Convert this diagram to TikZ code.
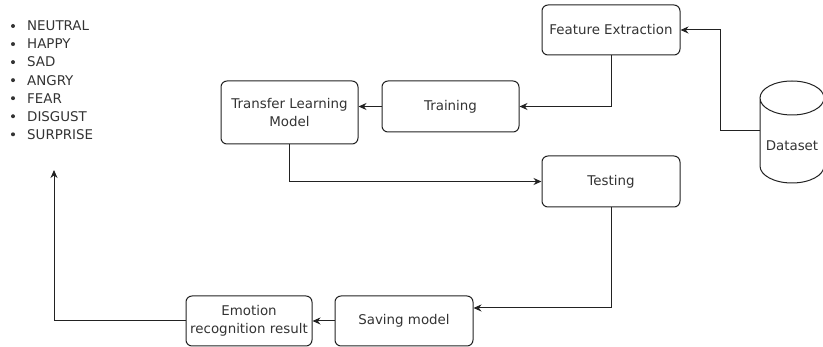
\documentclass[tikz,border=0pt]{standalone}
\usepackage{fontspec}
\setmainfont{DejaVu Sans}
\usetikzlibrary{arrows.meta,calc}
\definecolor{txt}{HTML}{333333}
\definecolor{ln}{HTML}{222222}
\begin{document}
\begin{tikzpicture}[x=1pt,y=-1pt,
  font=\fontsize{13.4pt}{18pt}\selectfont,
  box/.style={draw=ln,line width=1pt,rounded corners=6pt,text=txt,align=center,inner sep=1pt},
  arr/.style={draw=ln,line width=1pt,-{Stealth[length=8pt,width=7pt]}},
  item/.style={anchor=west,text=txt,inner sep=0pt}]
\useasboundingbox (0,0) rectangle (823,347);
% boxes
\node[box,minimum width=138pt,minimum height=50pt] (fe) at (611,30) {Feature Extraction};
\node[box,minimum width=137pt,minimum height=51pt] (tr) at (450.5,106.5) {Training};
\node[box,minimum width=137pt,minimum height=63pt] (tlm) at (289.5,112.5) {Transfer Learning\\Model};
\node[box,minimum width=138pt,minimum height=51pt] (te) at (611,181.5) {Testing};
\node[box,minimum width=138pt,minimum height=50pt] (sav) at (404,321) {Saving model};
\node[box,minimum width=126pt,minimum height=50pt] (emo) at (249,321) {Emotion\\recognition result};
% dataset cylinder
\node[minimum width=64pt,minimum height=102pt,inner sep=0pt,text=txt] (ds) at (792,146) {Dataset};
\draw[ln,line width=1pt] (760,98) -- (760,166) arc[start angle=180,end angle=0,x radius=32,y radius=17] -- (824,98)
  arc[start angle=0,end angle=360,x radius=32,y radius=17];
% list
\foreach \t [count=\i from 0] in {NEUTRAL,HAPPY,SAD,ANGRY,FEAR,DISGUST,SURPRISE}{
  \fill[txt] (13,{26+18.05*\i}) circle (2);
  \node[item] (l\i) at (27,{26+18.05*\i}) {\t};
}
\coordinate (up) at (54,170);
\coordinate (dsin) at (760,131);
% connectors
\draw[arr] (dsin) -| ($(fe.east)+(40,0)$) -- (fe.east);
\draw[arr] (fe.south) |- (tr.east);
\draw[arr] (tr.west) -- (tr.west -| tlm.east);
\draw[arr] (tlm.south) |- (te.west);
\draw[arr] (te.south) |- ([yshift=13pt]sav.east);
\draw[arr] (sav.west) -- (emo.east);
\draw[arr] (emo.west) -| (up);
\end{tikzpicture}
\end{document}
